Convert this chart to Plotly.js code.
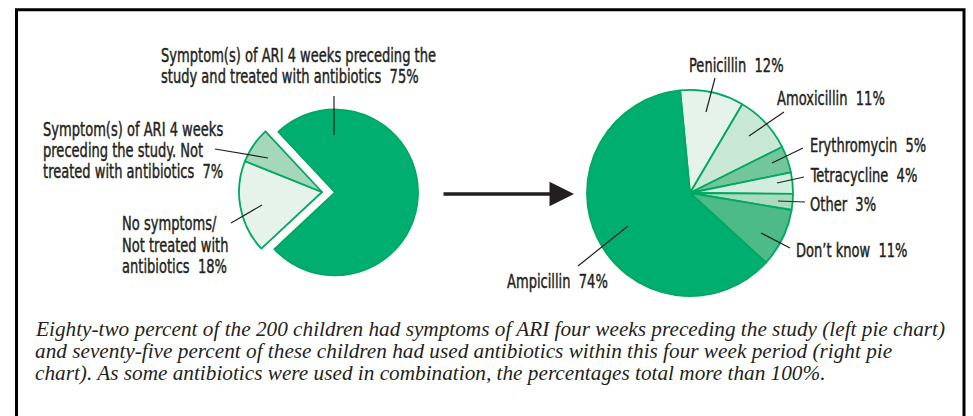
<!DOCTYPE html>
<html>
<head>
<meta charset="utf-8">
<script src="https://cdn.plot.ly/plotly-3.0.1.min.js"></script>
<style>
  html, body { margin: 0; padding: 0; background: #ffffff; }
  #chart { width: 973px; height: 416px; }
</style>
</head>
<body>
<div id="chart"></div>
<script>
// ---------------- DATA ----------------
const leftCategories = [
  "Symptom(s) of ARI 4 weeks preceding the study and treated with antibiotics",
  "No symptoms/ Not treated with antibiotics",
  "Symptom(s) of ARI 4 weeks preceding the study. Not treated with antibiotics"
];
const leftValues = [75, 18, 7];

const rightCategories = ["Penicillin", "Amoxicillin", "Erythromycin", "Tetracycline", "Other", "Don\u2019t know", "Ampicillin"];
const rightValues = [12, 11, 5, 4, 3, 11, 74];

const captionText = [
  "Eighty-two percent of the 200 children had symptoms of ARI four weeks preceding the study (left pie chart)",
  "and seventy-five percent of these children had used antibiotics within this four week period (right pie",
  "chart). As some antibiotics were used in combination, the percentages total more than 100%."
];

// ---------------- STYLE / LAYOUT ----------------
const W = 973, H = 416;
const px = x => x / W;
const py = y => 1 - y / H;

const GREEN = "#00AE6F";
const EDGE = "#00A862";
const INK = "#231F20";
const LABEL_FONT = "'DejaVu Sans Condensed', 'DejaVu Sans', sans-serif";
const LABEL_SIZE = 20;
const CAPTION_FONT = "'Liberation Serif', 'Times New Roman', serif";

const leftColors = [GREEN, "#E5F3EB", "#A5D7BA"];
const rightColors = ["#E5F3EB", "#C8E7D5", "#72C69A", "#D2ECDD", "#A9DCBF", "#4CBB87", GREEN];

// label placement: word counts per line, left x, first line centre y, leader line
const leftLabelCfg = [
  { words: [7], x: 161, y: 55, dy: 21, lead: [334, 96, 334, 135] },
  { words: [2, 3], x: 122, y: 223, dy: 21.5, lead: [231, 223, 262, 205] },
  { words: [5, 4], x: 43, y: 129, dy: 21, lead: [215, 149, 268, 158] }
];
const rightLabelCfg = [
  { x: 689, y: 65, lead: [715, 78, 706, 112] },
  { x: 777, y: 98, lead: [784, 112, 749, 136] },
  { x: 810, y: 145, lead: [803, 148, 772, 163] },
  { x: 810, y: 175, lead: [804, 177, 777, 183] },
  { x: 810, y: 204, lead: [805, 202, 778, 201] },
  { x: 796, y: 250, lead: [790, 248, 761, 233] },
  { x: 507, y: 281, lead: [578, 266, 628, 226] }
];
const LABEL_REF_WIDTH = 275; // width of the first label line in the source

function wrap(text, counts) {
  const words = text.split(" ");
  const lines = [];
  let i = 0;
  counts.forEach(c => { lines.push(words.slice(i, i + c).join(" ")); i += c; });
  if (i < words.length) lines.push(words.slice(i).join(" "));
  return lines;
}

const annotations = [];
const shapes = [];
const labelIdx = [];

function addText(text, x, y, font, isLabel) {
  if (isLabel) labelIdx.push(annotations.length);
  annotations.push({
    text: text, xref: "paper", yref: "paper", x: px(x), y: py(y),
    xanchor: "left", yanchor: "middle", showarrow: false,
    borderpad: 0, borderwidth: 0, font: font
  });
}
function addLead(c) {
  shapes.push({ type: "line", xref: "paper", yref: "paper",
    x0: px(c[0]), y0: py(c[1]), x1: px(c[2]), y1: py(c[3]),
    line: { color: INK, width: 1.2 } });
}
const labelFont = { family: LABEL_FONT, size: LABEL_SIZE, color: INK };

leftCategories.forEach((cat, i) => {
  const cfg = leftLabelCfg[i];
  const lines = wrap(cat, cfg.words);
  lines[lines.length - 1] += "\u00A0\u00A0" + leftValues[i] + "%";
  lines.forEach((ln, k) => addText(ln, cfg.x, cfg.y + k * cfg.dy, labelFont, true));
  addLead(cfg.lead);
});
rightCategories.forEach((cat, i) => {
  const cfg = rightLabelCfg[i];
  addText(cat + "\u00A0\u00A0" + rightValues[i] + "%", cfg.x, cfg.y, labelFont, true);
  addLead(cfg.lead);
});

captionText.forEach((ln, k) => {
  addText(ln, 35, 329 + k * 22,
    { family: CAPTION_FONT, size: 21.25, color: INK, style: "italic" }, false);
});

// arrow between the pies
annotations.push({
  xref: "paper", yref: "paper", axref: "paper", ayref: "paper",
  x: px(574), y: py(194), ax: px(442), ay: py(194),
  text: "", showarrow: true, arrowhead: 2, arrowsize: 1.4, arrowwidth: 3.5, arrowcolor: INK
});

// frame
shapes.push({ type: "rect", xref: "paper", yref: "paper",
  x0: px(16.5), x1: px(964), y0: py(430), y1: py(9.7),
  line: { color: "#000000", width: 3 }, fillcolor: "rgba(0,0,0,0)" });

const traces = [
  {
    type: "pie", labels: leftCategories, values: leftValues, sort: false,
    direction: "clockwise", rotation: -43, pull: [0.157, 0, 0],
    marker: { colors: leftColors, line: { color: EDGE, width: 1.8 } },
    textinfo: "none", hoverinfo: "label+value",
    domain: { x: [px(226), px(418)], y: [py(288), py(96)] }
  },
  {
    type: "pie", labels: rightCategories, values: rightValues, sort: false,
    direction: "clockwise", rotation: -5.5,
    marker: { colors: rightColors, line: { color: EDGE, width: 1.8 } },
    textinfo: "none", hoverinfo: "label+value",
    domain: { x: [px(587), px(793)], y: [py(296), py(90)] }
  }
];

const layout = {
  width: W, height: H,
  margin: { l: 0, r: 0, t: 0, b: 0 },
  paper_bgcolor: "#ffffff", plot_bgcolor: "#ffffff",
  showlegend: false,
  annotations: annotations,
  shapes: shapes
};

Plotly.newPlot("chart", traces, layout, { displayModeBar: false, staticPlot: true }).then(gd => {
  // condense the label type (the source uses a tall, medium-weight condensed face)
  const textOf = i => gd.querySelector('g.annotation[data-index="' + i + '"] text.annotation-text');
  const first = textOf(labelIdx[0]);
  if (!first) return;
  const s = LABEL_REF_WIDTH / first.getComputedTextLength();
  labelIdx.forEach(i => {
    const t = textOf(i);
    if (!t) return;
    t.style.transformBox = "fill-box";
    t.style.transformOrigin = "left center";
    t.style.transform = "scaleX(" + s.toFixed(4) + ")";
    t.style.stroke = INK;
    t.style.strokeWidth = "0.45px";
  });
});
</script>
</body>
</html>
